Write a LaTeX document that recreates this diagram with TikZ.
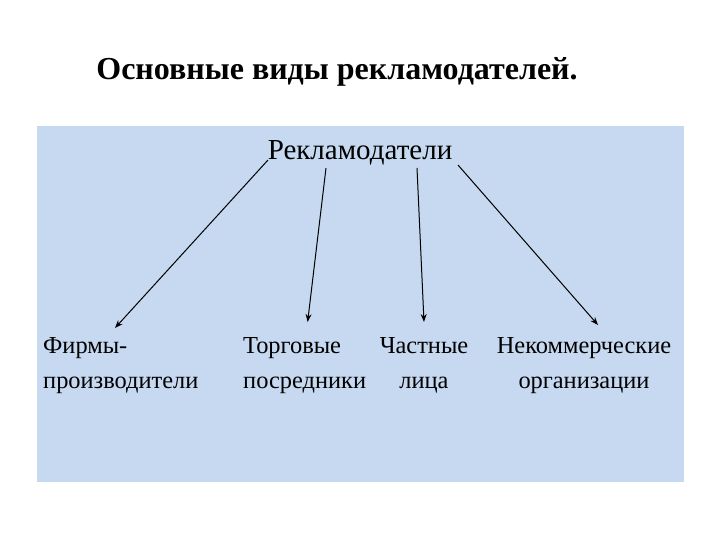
\documentclass[tikz,border=0pt]{standalone}
\usepackage{fontspec}
\setmainfont{Liberation Serif}
\usepackage{xcolor}
\usetikzlibrary{arrows.meta, calc, positioning}
\definecolor{panelblue}{RGB}{198, 217, 240}

\begin{document}
\begin{tikzpicture}[x=1pt, y=-1pt,
    kind/.style={inner sep=0pt, font=\fontsize{24.4}{35}\selectfont},
    link/.style={-{Stealth[length=8pt, width=6pt]}, line width=1pt, black}]
    % Page and panel
    \useasboundingbox (0,0) rectangle (720,540);
    \fill[panelblue] (37,126) rectangle (684,482);

    % Title
    \node[font=\fontsize{32}{36}\selectfont\bfseries] (title) at (337,72) {Основные виды рекламодателей.};

    % Root
    \node[inner sep=0pt, font=\fontsize{29}{34}\selectfont] (root) at (360,153) {Рекламодатели};

    % Kinds of advertisers
    \node[kind, align=left, anchor=north west] (firms) at (43,337) {Фирмы-\\производители};
    \node[kind, align=left, anchor=north west] (trade) at (243,337) {Торговые\\посредники};
    \node[kind, align=center, anchor=north] (persons) at (424,337) {Частные\\лица};
    \node[kind, align=center, anchor=north] (nonprofit) at (584,337) {Некоммерческие\\организации};

    % Start points under the root
    \coordinate (s1) at (268,160);
    \coordinate (s2) at (326,168);
    \coordinate (s3) at (417,168);
    \coordinate (s4) at (458,165);

    % Arrows
    \draw[link] (s1) -- ($(firms.north west)+(72,-9)$);
    \draw[link] (s2) -- ($(trade.north)+(3,-15)$);
    \draw[link] (s3) -- ($(persons.north)+(0,-15)$);
    \draw[link] (s4) -- ($(nonprofit.north)+(14,-12)$);
\end{tikzpicture}
\end{document}
